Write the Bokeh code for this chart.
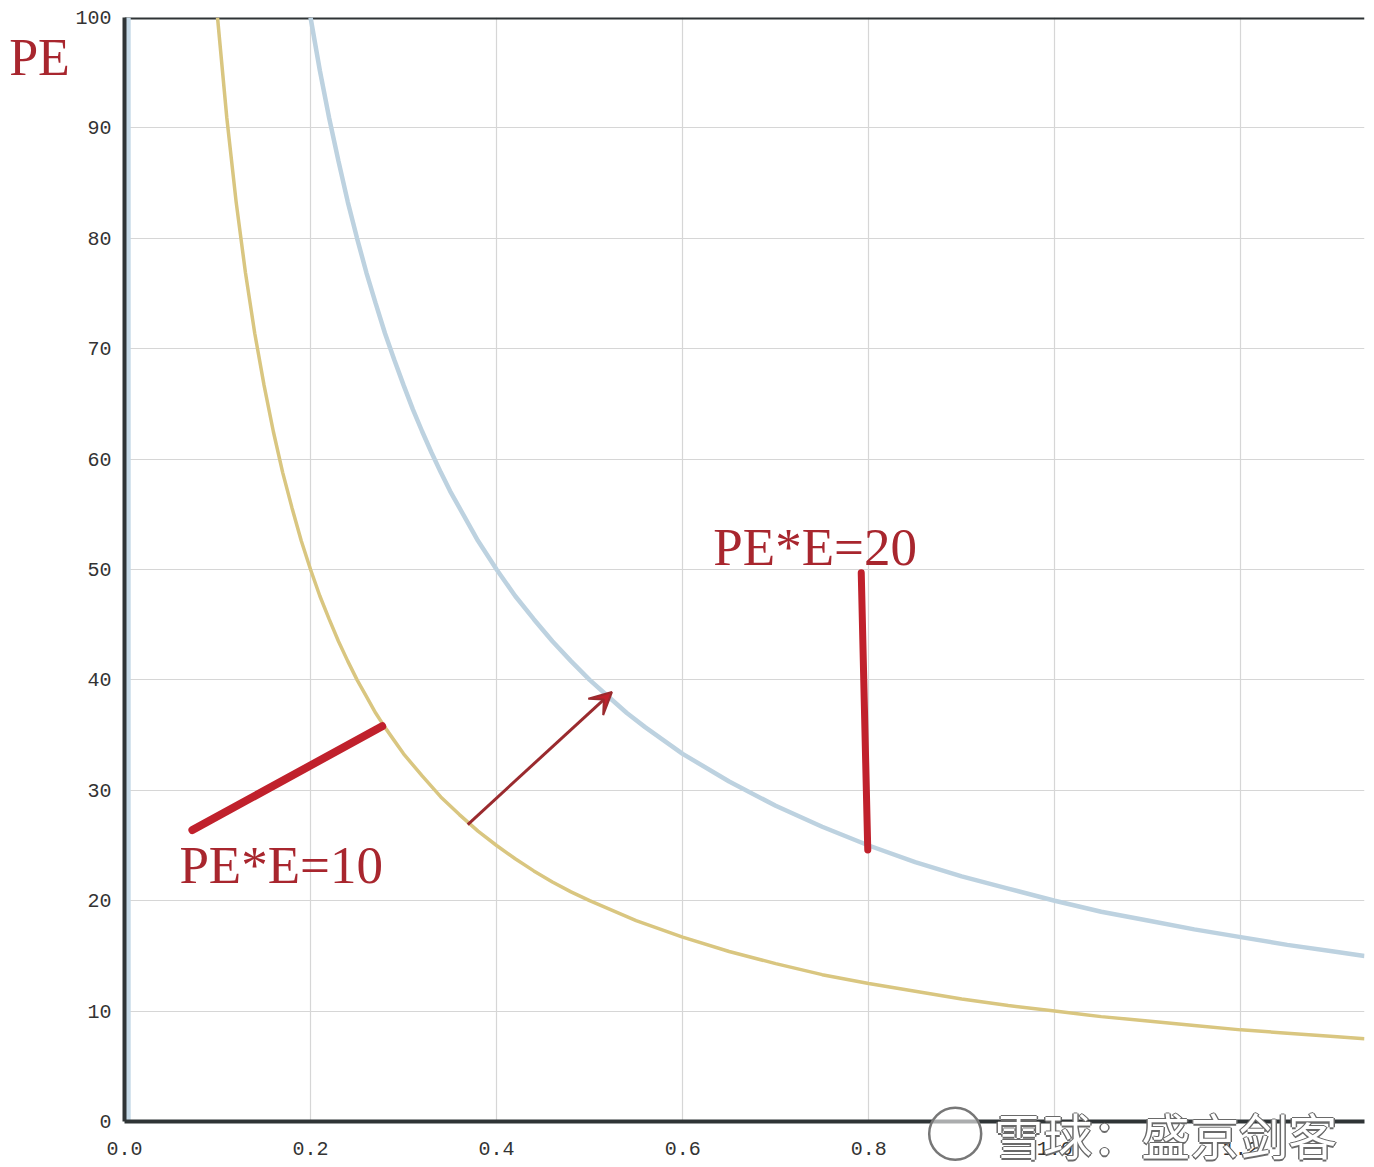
from bokeh.plotting import figure
from bokeh.models import Range1d, FixedTicker, Label, Arrow, VeeHead
from bokeh.core.properties import value
from bokeh.embed import file_html
from bokeh.resources import INLINE

# ---- data ----
e_10 = [0.10, 0.11, 0.12, 0.13, 0.14, 0.15, 0.16, 0.17, 0.18, 0.19, 0.20, 0.21, 0.22, 0.23,
        0.24, 0.25, 0.26, 0.27, 0.28, 0.29, 0.30, 0.32, 0.34, 0.36, 0.38, 0.40, 0.42, 0.44,
        0.46, 0.48, 0.50, 0.55, 0.60, 0.65, 0.70, 0.75, 0.80, 0.85, 0.90, 0.95, 1.00, 1.05,
        1.10, 1.15, 1.20, 1.25, 1.30, 1.333]
pe_10 = [100, 90.9, 83.3, 76.9, 71.4, 66.7, 62.5, 58.8, 55.6, 52.6, 50.0, 47.6, 45.5, 43.5,
         41.7, 40.0, 38.5, 37.0, 35.7, 34.5, 33.3, 31.3, 29.4, 27.8, 26.3, 25.0, 23.8, 22.7,
         21.7, 20.8, 20.0, 18.2, 16.7, 15.4, 14.3, 13.3, 12.5, 11.8, 11.1, 10.5, 10.0, 9.5,
         9.1, 8.7, 8.3, 8.0, 7.7, 7.5]
e_20 = [0.20, 0.21, 0.22, 0.23, 0.24, 0.25, 0.26, 0.27, 0.28, 0.29, 0.30, 0.31, 0.32, 0.33,
        0.34, 0.35, 0.36, 0.38, 0.40, 0.42, 0.44, 0.46, 0.48, 0.50, 0.52, 0.54, 0.56, 0.58,
        0.60, 0.65, 0.70, 0.75, 0.80, 0.85, 0.90, 0.95, 1.00, 1.05, 1.10, 1.15, 1.20, 1.25,
        1.30, 1.333]
pe_20 = [100, 95.2, 90.9, 87.0, 83.3, 80.0, 76.9, 74.1, 71.4, 69.0, 66.7, 64.5, 62.5, 60.6,
         58.8, 57.1, 55.6, 52.6, 50.0, 47.6, 45.5, 43.5, 41.7, 40.0, 38.5, 37.0, 35.7, 34.5,
         33.3, 30.8, 28.6, 26.7, 25.0, 23.5, 22.2, 21.1, 20.0, 19.0, 18.2, 17.4, 16.7, 16.0,
         15.4, 15.0]
axis_band_x = [0.004, 0.004]
axis_band_y = [0, 100]

x_ticks = [0.0, 0.2, 0.4, 0.6, 0.8, 1.0, 1.2]
x_tick_labels = ["0.0", "0.2", "0.4", "0.6", "0.8", "1.0", "1.2"]
y_ticks = [0, 10, 20, 30, 40, 50, 60, 70, 80, 90, 100]
y_tick_labels = ["0", "10", "20", "30", "40", "50", "60", "70", "80", "90", "100"]

# hand-drawn marks (data coordinates)
stroke1_x = [0.073, 0.277]
stroke1_y = [26.4, 35.8]
stroke2_x = [0.792, 0.799]
stroke2_y = [49.7, 24.6]
arrow_start = (0.369, 26.9)
arrow_end = (0.524, 38.9)

label_20 = "PE*E=20"
label_10 = "PE*E=10"
y_title = "PE"
watermark = "雪球：盛京剑客"

RED = "#a8262e"
STROKE_RED = "#c0212c"

p = figure(output_backend="svg", toolbar_location=None,
           frame_width=1240, frame_height=1104,
           x_range=Range1d(0, 1.333), y_range=Range1d(0, 100),
           min_border_left=124, min_border_top=17, min_border_right=1, min_border_bottom=44,
           background_fill_color="white", border_fill_color="white")
p.outline_line_color = None

# grid
for g in (p.xgrid, p.ygrid):
    g.grid_line_color = "#d6d6d6"
    g.grid_line_width = 1.2
p.xgrid.ticker = FixedTicker(ticks=x_ticks)
p.ygrid.ticker = FixedTicker(ticks=y_ticks)

# axes
p.xaxis.ticker = FixedTicker(ticks=x_ticks)
p.xaxis.major_label_overrides = {t: l for t, l in zip(x_ticks, x_tick_labels)}
p.yaxis.ticker = FixedTicker(ticks=y_ticks)
p.yaxis.major_label_overrides = {t: l for t, l in zip(y_ticks, y_tick_labels)}
for ax in (p.xaxis, p.yaxis):
    ax.axis_line_color = "#2f3436"
    ax.axis_line_width = 4
    ax.major_tick_line_color = None
    ax.minor_tick_line_color = None
    ax.major_label_text_font = "Liberation Mono"
    ax.major_label_text_font_size = "20px"
    ax.major_label_text_color = "#333333"
p.xaxis.major_label_standoff = 14
p.yaxis.major_label_standoff = 7

# top border line
p.line(x=[0, 1.333], y=[100, 100], line_color="#2f3436", line_width=4)

# curves
p.line(x=axis_band_x, y=axis_band_y, line_color="#c6dae8", line_width=5)
p.line(x=e_10, y=pe_10, line_color="#d9c680", line_width=3.5)
p.line(x=e_20, y=pe_20, line_color="#bdd2e0", line_width=4.5)

# hand-drawn marks
p.line(x=stroke1_x, y=stroke1_y, line_color=STROKE_RED, line_width=8, line_cap="round")
p.line(x=stroke2_x, y=stroke2_y, line_color=STROKE_RED, line_width=7, line_cap="round")
p.add_layout(Arrow(x_start=arrow_start[0], y_start=arrow_start[1],
                   x_end=arrow_end[0], y_end=arrow_end[1],
                   line_color="#9a2a2e", line_width=3,
                   end=VeeHead(size=22, fill_color=STROKE_RED, line_color="#9a2a2e", line_width=2)))

# texts (baseline correction of ~1.6 units measured on the render)
p.add_layout(Label(x=0.633, y=52.0, text=label_20, text_font="Liberation Serif",
                   text_font_size="53px", text_color=RED, text_baseline="alphabetic"))
p.add_layout(Label(x=0.059, y=23.2, text=label_10, text_font="Liberation Serif",
                   text_font_size="53px", text_color=RED, text_baseline="alphabetic"))

# texts outside the frame drawn as unclipped overlay glyphs
p.text(x=[-0.124], y=[96.4], text=[y_title], text_font=value("Liberation Serif"),
       text_font_size="52px", text_color=RED, text_baseline="alphabetic", level="overlay")

# watermark (logo circle + white text with grey outline)
p.scatter(x=[0.893], y=[-1.1], size=52, marker="circle", fill_color="white",
          fill_alpha=0.6, line_color="#777777", line_width=2.5, level="overlay")
for dx, dy in [(-1.5, 0), (1.5, 0), (0, -1.5), (0, 1.5)]:
    p.text(x=[0.935], y=[-1.1], text=[watermark], x_offset=dx, y_offset=dy,
           text_font=value("Noto Sans CJK SC"), text_font_size="49px",
           text_color="#6a6a6a", text_baseline="middle", level="overlay")
p.text(x=[0.935], y=[-1.1], text=[watermark],
       text_font=value("Noto Sans CJK SC"), text_font_size="49px",
       text_color="white", text_baseline="middle", level="overlay")

open("out.html", "w").write(file_html(p, INLINE))
